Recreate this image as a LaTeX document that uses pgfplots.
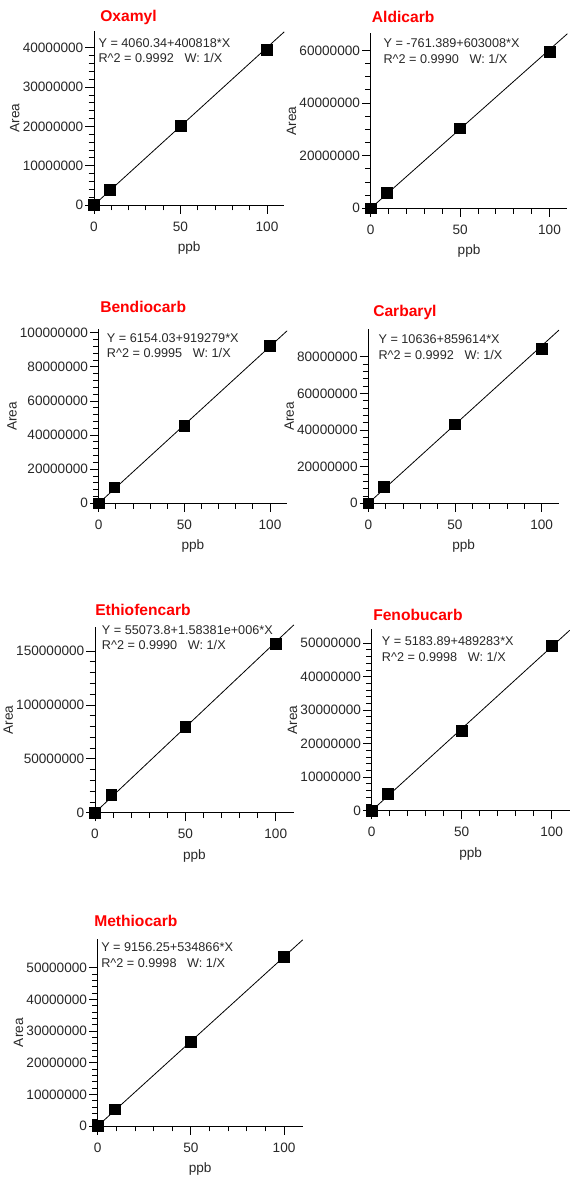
\documentclass[border=0pt]{standalone}
\usepackage{fontspec}
\setmainfont{Liberation Sans}
\usepackage{pgfplots}
\pgfplotsset{compat=1.18}
\definecolor{txt}{RGB}{40,40,40}
\definecolor{ttl}{RGB}{255,0,0}
\newcommand\fs{\fontsize{9.5}{11}\selectfont}
\newcommand\ts{\fontsize{10.2}{12}\selectfont}
\newcommand\tf{\fontsize{11.7}{13}\selectfont\bfseries}
\pgfplotsset{
  panel/.style={
    scale only axis, axis lines=left, axis line style={-, black, line width=0.6pt},
    xmin=0, xmax=110, ymin=0, clip=false,
    xtick={0,50,100}, minor x tick num=4,
    tick align=outside, major tick length=6.5pt, minor tick length=4pt,
    every tick/.style={black, line width=0.6pt},
    xlabel={ppb}, ylabel={Area},
    ticklabel style={font=\ts, text=txt},
    yticklabel style={xshift=2pt},
    xticklabel style={yshift=-2.5pt},
    label style={font=\ts, text=txt},
    ylabel shift=-4.5pt, xlabel shift=1pt,
    scaled y ticks=false,
    /pgf/number format/fixed, /pgf/number format/precision=0,
    /pgf/number format/1000 sep={},
    /pgf/number format/assume math mode=true,
    anchor=south west,
  },
  fit/.style={black, line width=0.6pt, no marks},
  pts/.style={only marks, mark=square*, mark size=4pt, black},
}
\newcommand\ttlnode[3]{\node[anchor=west, font=\tf, text=ttl, inner sep=0pt] at (#1*0.75pt,-#2*0.75pt) {#3};}
\newcommand\eqn[5]{%
  \node[anchor=west, font=\fs, text=txt, inner sep=0pt] at (#1*0.75pt,-#2*0.75pt) {#4};
  \node[anchor=west, font=\fs, text=txt, inner sep=0pt] at (#1*0.75pt,-#3*0.75pt) {R\textasciicircum 2 = #5\hspace{8pt}W: 1/X};
}
\begin{document}
\begin{tikzpicture}
\useasboundingbox (0,0) rectangle (571*0.75pt,-1178*0.75pt);
% Oxamyl
\begin{axis}[panel, at={(94*0.75pt,-205*0.75pt)}, width=142.7pt, height=130.5pt, ymax=44.3e6,
  ytick={0,10000000,20000000,30000000,40000000}, minor y tick num=4]
\addplot[fit] coordinates {(0,4060) (110,44094040)};
\addplot[pts] coordinates {(0,0) (9,3900000) (50,20200000) (100,39500000)};
\end{axis}
% Aldicarb
\begin{axis}[panel, at={(370.7*0.75pt,-208.3*0.75pt)}, width=147.5pt, height=131.25pt, ymax=66.5e6,
  ytick={0,20000000,40000000,60000000}, minor y tick num=3]
\addplot[fit] coordinates {(0,-761) (110,66330119)};
\addplot[pts] coordinates {(0,0) (9,6000000) (50,30400000) (100,59500000)};
\end{axis}
% Bendiocarb
\begin{axis}[panel, at={(98.7*0.75pt,-503.3*0.75pt)}, width=141.3pt, height=130.5pt, ymax=102e6,
  ytick={0,20000000,40000000,60000000,80000000,100000000}, minor y tick num=4]
\addplot[fit] coordinates {(0,6154) (110,101126844)};
\addplot[pts] coordinates {(0,0) (9,9400000) (50,45300000) (100,92300000)};
\end{axis}
% Carbaryl
\begin{axis}[panel, at={(368.3*0.75pt,-503.3*0.75pt)}, width=143pt, height=130.5pt, ymax=95e6,
  ytick={0,20000000,40000000,60000000,80000000}, minor y tick num=4]
\addplot[fit] coordinates {(0,10636) (110,94568176)};
\addplot[pts] coordinates {(0,0) (9,9100000) (50,43100000) (100,84200000)};
\end{axis}
% Ethiofencarb
\begin{axis}[panel, at={(95*0.75pt,-812.7*0.75pt)}, width=149.1pt, height=139pt, ymax=172e6,
  ytick={0,50000000,100000000,150000000}, minor y tick num=4]
\addplot[fit] coordinates {(0,55074) (110,174274174)};
\addplot[pts] coordinates {(0,0) (9,16400000) (50,79800000) (100,156500000)};
\end{axis}
% Fenobucarb
\begin{axis}[panel, at={(371.7*0.75pt,-810.7*0.75pt)}, width=148.5pt, height=136pt, ymax=54.1e6,
  ytick={0,10000000,20000000,30000000,40000000,50000000}, minor y tick num=4]
\addplot[fit] coordinates {(0,5184) (110,53826314)};
\addplot[pts] coordinates {(0,0) (9,5000000) (50,23900000) (100,49200000)};
\end{axis}
% Methiocarb
\begin{axis}[panel, at={(97.7*0.75pt,-1126*0.75pt)}, width=153.75pt, height=140pt, ymax=59e6,
  ytick={0,10000000,20000000,30000000,40000000,50000000}, minor y tick num=4]
\addplot[fit] coordinates {(0,9156) (110,58844416)};
\addplot[pts] coordinates {(0,0) (9,5300000) (50,26600000) (100,53500000)};
\end{axis}
% titles
\ttlnode{100}{17}{Oxamyl}
\ttlnode{371.7}{17}{Aldicarb}
\ttlnode{100}{307}{Bendiocarb}
\ttlnode{373}{312.7}{Carbaryl}
\ttlnode{95}{610}{Ethiofencarb}
\ttlnode{373}{615}{Fenobucarb}
\ttlnode{94}{920.7}{Methiocarb}
% equations
\eqn{98.3}{42.7}{58.3}{Y = 4060.34+400818*X}{0.9992}
\eqn{383.3}{43.3}{59.3}{Y = -761.389+603008*X}{0.9990}
\eqn{106.7}{338.3}{353.3}{Y = 6154.03+919279*X}{0.9995}
\eqn{378.3}{339.3}{355}{Y = 10636+859614*X}{0.9992}
\eqn{101.7}{630}{645}{Y = 55073.8+1.58381e+006*X}{0.9990}
\eqn{381.7}{640.7}{656.7}{Y = 5183.89+489283*X}{0.9998}
\eqn{101}{947.3}{962.7}{Y = 9156.25+534866*X}{0.9998}
\end{tikzpicture}
\end{document}
